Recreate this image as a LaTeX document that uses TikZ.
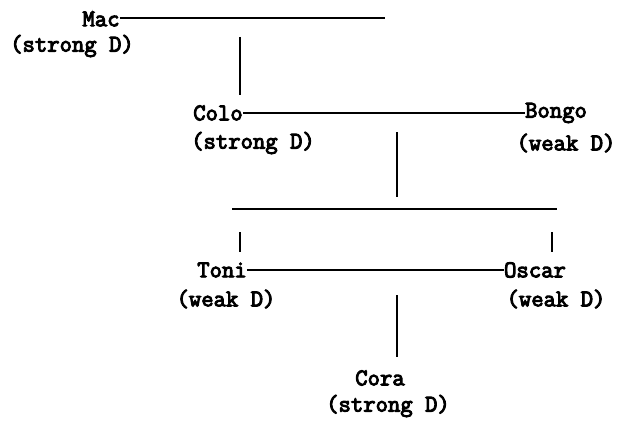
\documentclass[tikz,border=0pt]{standalone}
\usepackage{fontspec}
\newfontfamily\twfont{Latin Modern Mono}[FakeBold=4]
\begin{document}
\begin{tikzpicture}[x=1pt,y=-1pt,
  txt/.style={inner sep=0pt,font=\twfont\fontsize{24}{24}\selectfont},
  link/.style={line width=1.9pt,black},
  hlink/.style={link}]
\useasboundingbox (0,0) rectangle (636,425);
% names
\node[txt] (mac) at (101,19) {Mac};
\node[txt] (macl) at (72,46) {(strong D)};
\node[txt] (colo) at (218,113) {Colo};
\node[txt] (colol) at (253,143) {(strong D)};
\node[txt] (bongo) at (556,113) {Bongo};
\node[txt] (bongol) at (566,143) {(weak D)};
\node[txt] (toni) at (222,270) {Toni};
\node[txt] (tonil) at (226,299) {(weak D)};
\node[txt] (oscar) at (535,270) {Oscar};
\node[txt] (oscarl) at (556,299) {(weak D)};
\node[txt] (cora) at (380,378) {Cora};
\node[txt] (coral) at (388,406) {(strong D)};
% free ends
\coordinate (macend) at (385,18);
\coordinate (v1a) at (240,37);
\coordinate (v1b) at (240,95);
\coordinate (v2a) at (397,132);
\coordinate (v2b) at (397,197);
\coordinate (hl) at (232,209);
\coordinate (hr) at (557,209);
\coordinate (sla) at (240,232);
\coordinate (slb) at (240,252);
\coordinate (sra) at (552,232);
\coordinate (srb) at (552,252);
\coordinate (v3a) at (397,295);
\coordinate (v3b) at (397,357);
% connectors
\draw[hlink] (mac.east |- macend) -- (macend);
\draw[link] (v1a) -- (v1b);
\draw[hlink] (colo.east) -- (bongo.west);
\draw[link] (v2a) -- (v2b);
\draw[hlink] (hl) -- (hr);
\draw[link] (sla) -- (slb);
\draw[link] (sra) -- (srb);
\draw[hlink] (toni.east) -- (oscar.west);
\draw[link] (v3a) -- (v3b);
\end{tikzpicture}
\end{document}
